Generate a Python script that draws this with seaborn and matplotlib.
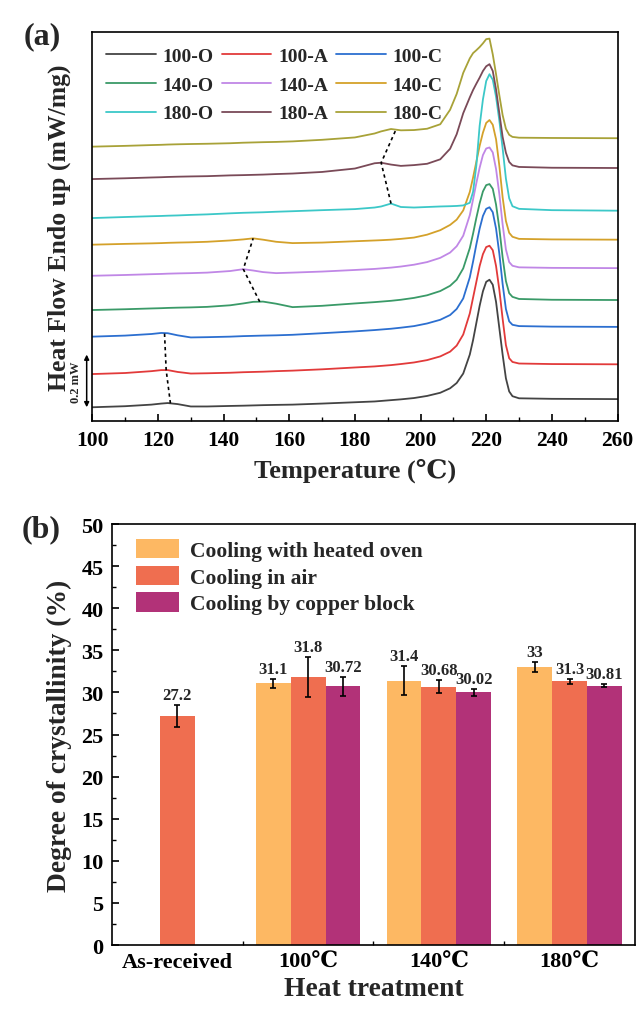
import numpy as np
import pandas as pd
import matplotlib
matplotlib.use('Agg')
import matplotlib.pyplot as plt
import seaborn as sns
from matplotlib.ticker import MultipleLocator
from matplotlib.transforms import blended_transform_factory

# ---------------- (a) DSC curves ----------------
temps = [100, 110, 118, 121, 123, 126, 130, 135, 142, 146, 149, 152, 156, 161, 170,
         180, 186, 188, 191, 194, 198, 202, 206, 209, 211, 213, 215, 216, 217, 218,
         219, 220, 221, 222, 223, 224, 225, 226, 227, 228, 230, 240, 260]

samples = ['100-O', '100-A', '100-C', '140-O', '140-A', '140-C', '180-O', '180-A', '180-C']
line_colors = ['#444444', '#E23A3A', '#2C6FD0', '#3A9A68', '#C087E6',
               '#D4A12A', '#3CC8C8', '#7A4A58', '#A8A238']
# vertical stacking offsets (mW)
offsets = [0.051, 0.177, 0.319, 0.420, 0.550, 0.668, 0.769, 0.917, 1.040]

h_100O = [0.000, 0.004, 0.010, 0.014, 0.016, 0.012, 0.003, 0.003, 0.005, 0.006, 0.007, 0.008, 0.009, 0.010, 0.014,
          0.019, 0.022, 0.024, 0.027, 0.030, 0.035, 0.043, 0.055, 0.072, 0.092, 0.128, 0.200, 0.255, 0.320, 0.385,
          0.440, 0.476, 0.484, 0.465, 0.400, 0.300, 0.200, 0.110, 0.060, 0.042, 0.034, 0.032, 0.031]
h_100A = [0.000, 0.004, 0.011, 0.015, 0.015, 0.008, 0.002, 0.003, 0.005, 0.007, 0.008, 0.009, 0.011, 0.013, 0.018,
          0.025, 0.029, 0.031, 0.034, 0.038, 0.044, 0.053, 0.067, 0.085, 0.108, 0.150, 0.230, 0.290, 0.350, 0.410,
          0.455, 0.482, 0.487, 0.470, 0.410, 0.320, 0.210, 0.110, 0.060, 0.046, 0.040, 0.038, 0.037]
h_100C = [0.000, 0.004, 0.010, 0.014, 0.013, 0.005, -0.003, -0.002, 0.000, 0.002, 0.003, 0.004, 0.005, 0.007, 0.013,
          0.020, 0.025, 0.027, 0.030, 0.034, 0.040, 0.050, 0.064, 0.082, 0.105, 0.145, 0.225, 0.285, 0.350, 0.410,
          0.458, 0.485, 0.491, 0.472, 0.410, 0.315, 0.200, 0.105, 0.058, 0.045, 0.040, 0.038, 0.037]
h_140O = [0.000, 0.003, 0.006, 0.007, 0.008, 0.009, 0.010, 0.012, 0.018, 0.025, 0.031, 0.032, 0.024, 0.011, 0.016,
          0.025, 0.030, 0.032, 0.035, 0.039, 0.046, 0.056, 0.072, 0.092, 0.115, 0.158, 0.235, 0.290, 0.350, 0.405,
          0.450, 0.474, 0.478, 0.460, 0.400, 0.310, 0.200, 0.110, 0.064, 0.050, 0.042, 0.039, 0.038]
h_140A = [0.000, 0.003, 0.006, 0.007, 0.008, 0.009, 0.010, 0.012, 0.018, 0.025, 0.020, 0.014, 0.010, 0.012, 0.016,
          0.022, 0.026, 0.028, 0.031, 0.035, 0.042, 0.052, 0.068, 0.088, 0.112, 0.152, 0.230, 0.290, 0.352, 0.410,
          0.458, 0.483, 0.487, 0.468, 0.405, 0.310, 0.195, 0.100, 0.052, 0.038, 0.032, 0.030, 0.029]
h_140C = [0.000, 0.003, 0.005, 0.006, 0.007, 0.008, 0.009, 0.011, 0.016, 0.020, 0.024, 0.019, 0.011, 0.006, 0.008,
          0.013, 0.016, 0.017, 0.019, 0.022, 0.027, 0.038, 0.055, 0.075, 0.095, 0.130, 0.200, 0.255, 0.315, 0.375,
          0.425, 0.462, 0.473, 0.455, 0.400, 0.300, 0.180, 0.090, 0.045, 0.030, 0.022, 0.020, 0.019]
h_180O = [0.000, 0.004, 0.007, 0.008, 0.009, 0.010, 0.012, 0.014, 0.018, 0.020, 0.021, 0.022, 0.024, 0.026, 0.030,
          0.034, 0.040, 0.044, 0.055, 0.042, 0.040, 0.042, 0.044, 0.045, 0.046, 0.048, 0.058, 0.100, 0.200, 0.350,
          0.450, 0.520, 0.546, 0.525, 0.460, 0.370, 0.265, 0.150, 0.075, 0.045, 0.035, 0.030, 0.028]
h_180A = [0.000, 0.003, 0.006, 0.007, 0.008, 0.009, 0.010, 0.011, 0.014, 0.015, 0.016, 0.017, 0.019, 0.021, 0.027,
          0.040, 0.060, 0.062, 0.055, 0.050, 0.053, 0.058, 0.075, 0.115, 0.170, 0.250, 0.310, 0.338, 0.362, 0.385,
          0.410, 0.428, 0.436, 0.410, 0.340, 0.250, 0.160, 0.100, 0.065, 0.052, 0.046, 0.043, 0.042]
h_180C = [0.000, 0.003, 0.006, 0.007, 0.008, 0.009, 0.010, 0.011, 0.013, 0.015, 0.016, 0.017, 0.018, 0.020, 0.026,
          0.035, 0.050, 0.058, 0.067, 0.062, 0.063, 0.068, 0.085, 0.140, 0.200, 0.280, 0.335, 0.355, 0.366, 0.378,
          0.392, 0.408, 0.410, 0.350, 0.275, 0.195, 0.120, 0.068, 0.045, 0.037, 0.034, 0.033, 0.032]
signals = [h_100O, h_100A, h_100C, h_140O, h_140A, h_140C, h_180O, h_180A, h_180C]

# temperatures of the small pre-melting endotherms (for the dotted guide lines)
bump_T = [123.8, 122.5, 122.0, 151.0, 146.0, 149.0, 191.0, 188.0, 192.5]

# ---------------- (b) crystallinity bars ----------------
groups = ['As-received', '100℃', '140℃', '180℃']
cooling = ['Cooling with heated oven', 'Cooling in air', 'Cooling by copper block']
bar_colors = ['#FDB863', '#EF6E50', '#B23278']
dc_oven = [np.nan, 31.1, 31.4, 33.0]
dc_air = [27.2, 31.8, 30.68, 31.3]
dc_copper = [np.nan, 30.72, 30.02, 30.81]
err_oven = [np.nan, 0.53, 1.7, 0.6]
err_air = [1.3, 2.37, 0.8, 0.26]
err_copper = [np.nan, 1.1, 0.4, 0.16]

# ---------------- style ----------------
sns.set_theme(style='ticks')
plt.rcParams['font.family'] = ['Liberation Serif', 'DejaVu Serif', 'Noto Sans CJK SC']
plt.rcParams['font.weight'] = 'bold'
plt.rcParams['axes.labelweight'] = 'bold'
plt.rcParams['axes.linewidth'] = 1.2
plt.rcParams['axes.edgecolor'] = 'black'
plt.rcParams['xtick.direction'] = 'in'
plt.rcParams['ytick.direction'] = 'in'
plt.rcParams['xtick.color'] = 'black'
plt.rcParams['ytick.color'] = 'black'

fig = plt.figure(figsize=(6.37, 10.12), dpi=100)
ax1 = fig.add_axes([0.1449, 0.5833, 0.8245, 0.3838])
ax2 = fig.add_axes([0.1758, 0.0652, 0.8210, 0.4160])

# ---- panel (a)
rows = []
for name, off, sig in zip(samples, offsets, signals):
    for t, v in zip(temps, sig):
        rows.append((t, off + v, name))
dsc = pd.DataFrame(rows, columns=['T', 'flow', 'sample'])

sns.lineplot(data=dsc, x='T', y='flow', hue='sample', hue_order=samples,
             palette=line_colors, estimator=None, sort=False, lw=1.3, ax=ax1)

# dotted guide lines through the small endotherms
for g in range(3):
    xs, ys = [], []
    for k in range(3 * g, 3 * g + 3):
        xs.append(bump_T[k])
        ys.append(offsets[k] + np.interp(bump_T[k], temps, signals[k]))
    ax1.plot(xs, ys, color='black', ls=(0, (2, 2)), lw=1.2)

ax1.set_xlim(100, 260)
ax1.set_ylim(0, 1.474)
ax1.xaxis.set_major_locator(MultipleLocator(20))
ax1.xaxis.set_minor_locator(MultipleLocator(10))
ax1.set_yticks([])
ax1.tick_params(axis='x', which='major', length=5, width=1.2, labelsize=15.5, pad=7)
ax1.tick_params(axis='x', which='minor', length=3, width=1.0)
ax1.set_xlabel('Temperature (℃)', fontsize=19, labelpad=5)
ax1.set_ylabel('Heat Flow Endo up (mW/mg)', fontsize=18.5)
ax1.yaxis.set_label_coords(-0.040, 0.5)

handles, labels = ax1.get_legend_handles_labels()
order = [0, 3, 6, 1, 4, 7, 2, 5, 8]
ax1.legend([handles[i] for i in order], [labels[i] for i in order], ncol=3,
           loc='upper left', bbox_to_anchor=(0.027, 0.962), frameon=False,
           fontsize=14, handlelength=2.55, handletextpad=0.35, columnspacing=0.4,
           labelspacing=0.58, borderaxespad=0, borderpad=0)

# 0.2 mW scale bar
trans = blended_transform_factory(ax1.transAxes, ax1.transData)
ax1.annotate('', xy=(-0.0107, offsets[0] + 0.2), xytext=(-0.0107, offsets[0]),
             xycoords=trans, textcoords=trans, annotation_clip=False,
             arrowprops=dict(arrowstyle='<|-|>', lw=1.1, color='black',
                             shrinkA=0, shrinkB=0, mutation_scale=7))
ax1.text(-0.031, offsets[0] + 0.1, '0.2 mW', transform=trans, rotation=90,
         ha='center', va='center', fontsize=9, fontweight='bold')

# ---- panel (b)
bars = pd.DataFrame({
    'group': groups * 3,
    'cooling': [c for c in cooling for _ in groups],
    'dc': dc_oven + dc_air + dc_copper,
    'err': err_oven + err_air + err_copper,
}).dropna()

sns.barplot(data=bars, x='group', y='dc', hue='cooling', order=groups,
            hue_order=cooling, palette=bar_colors, errorbar=None, width=0.8,
            saturation=1, linewidth=0, ax=ax2)

for bar in ax2.patches:
    h = bar.get_height()
    if not np.isfinite(h) or h == 0:
        continue
    idx = np.where(np.isclose(bars['dc'].values, h))[0]
    if len(idx) == 0:
        continue
    e = bars['err'].values[idx[0]]
    xc = bar.get_x() + bar.get_width() / 2
    ax2.errorbar(xc, h, yerr=e, fmt='none', ecolor='black', elinewidth=1.2,
                 capsize=2.5, capthick=1.2)
    ax2.text(xc, h + e + 0.25, f'{h:g}', ha='center', va='bottom',
             fontsize=12, fontweight='bold')

ax2.set_xlim(-0.5, 3.5)
ax2.set_ylim(0, 50)
ax2.yaxis.set_major_locator(MultipleLocator(5))
ax2.yaxis.set_minor_locator(MultipleLocator(2.5))
ax2.set_xticks([0.5, 1.5, 2.5], minor=True)
ax2.tick_params(axis='both', which='major', length=5, width=1.2, labelsize=16)
ax2.tick_params(axis='x', which='major', pad=5)
ax2.tick_params(axis='y', which='major', pad=6)
ax2.tick_params(axis='both', which='minor', length=3, width=1.0)
ax2.set_xlabel('Heat treatment', fontsize=19.8, labelpad=3)
ax2.set_ylabel('Degree of crystallinity (%)', fontsize=19.8)
ax2.yaxis.set_label_coords(-0.0765, 0.5)

bh, bl = ax2.get_legend_handles_labels()
ax2.legend(bh, bl, loc='upper left', bbox_to_anchor=(0.045, 0.965), frameon=False,
           fontsize=15.5, handlelength=2.0, handleheight=1.0, handletextpad=0.55,
           labelspacing=0.22, borderaxespad=0, borderpad=0)

for ax in (ax1, ax2):
    for s in ax.spines.values():
        s.set_visible(True)
        s.set_color('black')
        s.set_linewidth(1.2)

fig.text(42 / 637, 1 - 37 / 1012, '(a)', ha='center', va='center', fontsize=23, fontweight='bold')
fig.text(41 / 637, 1 - 530 / 1012, '(b)', ha='center', va='center', fontsize=23, fontweight='bold')

fig.savefig('out.png', dpi=100)
